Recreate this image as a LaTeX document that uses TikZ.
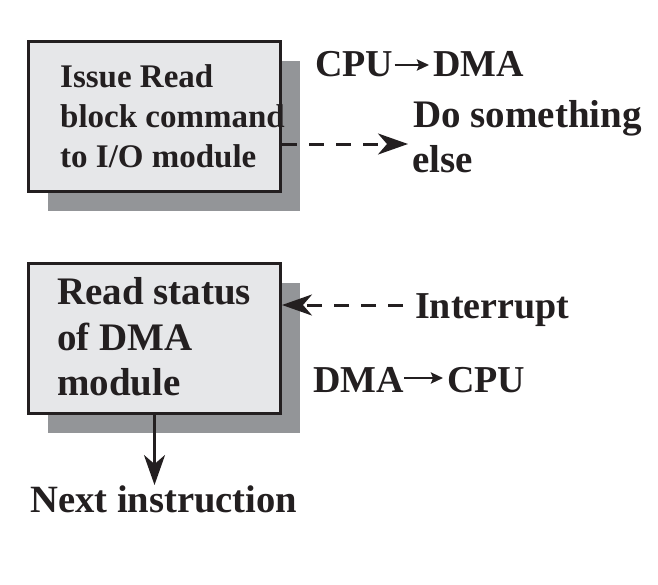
\documentclass[tikz,border=0pt]{standalone}
\usepackage{fontspec}
\setmainfont{Liberation Serif}
\usetikzlibrary{arrows.meta,shadows}
\definecolor{boxfill}{HTML}{E6E7E9}
\definecolor{shadowgray}{HTML}{939598}
\definecolor{ink}{HTML}{231F20}
\begin{document}
\begin{tikzpicture}[x=1pt,y=-1pt,
  box/.style={draw=ink,line width=3pt,fill=boxfill,minimum width=252pt,minimum height=150pt,inner sep=0pt,
    drop shadow={shadow xshift=19pt,shadow yshift=-19pt,fill=shadowgray,opacity=1}},
  txt/.style={text=ink,inner sep=0pt,anchor=base west},
  fs33/.style={font=\bfseries\fontsize{33}{40}\selectfont},
  fs38/.style={font=\bfseries\fontsize{38}{44}\selectfont},
  fs39/.style={font=\bfseries\fontsize{39}{46}\selectfont},
  tip/.style={-{Stealth[length=30pt,width=21pt,inset=9pt]}},
  conn/.style={draw=ink,line width=3pt,tip},
  dashconn/.style={conn,dash pattern=on 15pt off 12pt},
  textarrow/.style={draw=ink,line width=2.4pt,-{Stealth[length=12pt,width=11pt,inset=2pt]}}
]
\useasboundingbox (0,0) rectangle (658,584);
% boxes
\node[box] (b1) at (154.5,116.5) {};
\node[box] (b2) at (154.5,338.5) {};
% box texts
\node[txt,fs33] (t1a) at (60,87) {Issue Read};
\node[txt,fs33] (t1b) at (60,127) {block command};
\node[txt,fs33] (t1c) at (60,167) {to I/O module};
\node[txt,fs39] (t2a) at (57,304) {Read status};
\node[txt,fs39] (t2b) at (57,350) {of DMA};
\node[txt,fs39] (t2c) at (57,395) {module};
% side labels
\node[txt,fs38] (cpu1) at (315,76) {CPU};
\node[txt,fs38] (dma1) at (433,76) {DMA};
\node[txt,fs39] (ds) at (413,127) {Do something};
\node[txt,fs39] (el) at (412,172) {else};
\node[txt,fs38] (ir) at (415,318) {Interrupt};
\node[txt,fs38] (dma2) at (313,392) {DMA};
\node[txt,fs38] (cpu2) at (447,392) {CPU};
\node[txt,font=\bfseries\fontsize{38.6}{44}\selectfont] (ni) at (30,512) {Next instruction};
% arrows inside labels
\draw[textarrow] ([yshift=11pt,xshift=1pt]cpu1.base east) -- ([yshift=11pt,xshift=-4pt]dma1.base west);
\draw[textarrow] ([yshift=14pt]dma2.base east) -- ([yshift=14pt,xshift=-4pt]cpu2.base west);
% connectors
\coordinate (a1) at (408,144);
\coordinate (a2) at (403,305);
\draw[dashconn] (b1.east |- a1) -- (a1);
\draw[dashconn] (a2) -- (b2.east |- a2);
\draw[conn] (b2.south) -- (b2.south |- ni.north);
\end{tikzpicture}
\end{document}
